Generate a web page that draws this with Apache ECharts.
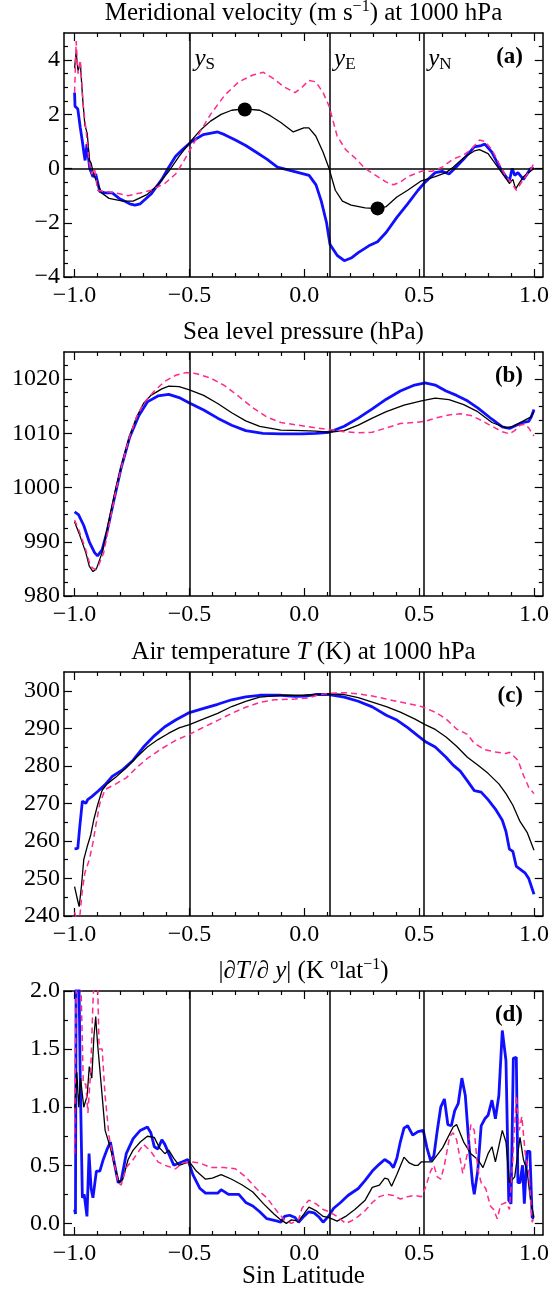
<!DOCTYPE html>
<html><head><meta charset="utf-8">
<script src="https://cdn.jsdelivr.net/npm/echarts@6/dist/echarts.min.js"></script>
<style>html,body{margin:0;padding:0;background:#fff}#c{width:552px;height:1293px}</style>
</head><body><div id="c"></div>
<script>
// ---------------- data ----------------
const X_MIN = -1.046, X_MAX = 1.038;
const xMajor = [-1, -0.5, 0, 0.5, 1];
const xMinor = [-0.9,-0.8,-0.7,-0.6,-0.4,-0.3,-0.2,-0.1,0.1,0.2,0.3,0.4,0.6,0.7,0.8,0.9];
const boundaries = [-0.5, 0.108, 0.518];           // y_S, y_E, y_N
const boundaryNames = ['S', 'E', 'N'];

const yRangeA = [-4, 5], yMajorA = [-4,-2,0,2,4], yMinorA = [-3.5,-3,-2.5,-1.5,-1,-0.5,0.5,1,1.5,2.5,3,3.5,4.5];
const yRangeB = [980, 1025], yMajorB = [980,990,1000,1010,1020], yMinorB = [982.5,985,987.5,992.5,995,997.5,1002.5,1005,1007.5,1012.5,1015,1017.5,1022.5];
const yRangeC = [240, 305], yMajorC = [240,250,260,270,280,290,300], yMinorC = [245,255,265,275,285,295];
const yRangeD = [-0.1, 2.0], yMajorD = [0,0.5,1,1.5,2], yMinorD = [0.25,0.75,1.25,1.75];

// (a) meridional velocity
const vBlack = [[-1.0,3.7],[-0.993,4.3],[-0.985,3.6],[-0.975,3.9],[-0.965,2.6],[-0.955,1.6],[-0.945,1.3],[-0.935,0.3],[-0.928,0.2],[-0.92,-0.1],[-0.913,-0.3],[-0.882,-0.9],[-0.85,-1.1],[-0.79,-1.2],[-0.745,-1.2],[-0.683,-0.95],[-0.637,-0.6],[-0.59,-0.1],[-0.545,0.45],[-0.5,0.95],[-0.454,1.4],[-0.408,1.75],[-0.362,2.0],[-0.316,2.15],[-0.26,2.2],[-0.194,2.15],[-0.148,1.95],[-0.102,1.7],[-0.048,1.35],[-0.002,1.5],[0.02,1.5],[0.05,1.2],[0.082,0.6],[0.108,0.0],[0.135,-0.8],[0.166,-1.2],[0.204,-1.35],[0.265,-1.45],[0.319,-1.48],[0.357,-1.4],[0.403,-1.05],[0.45,-0.8],[0.51,-0.45],[0.57,-0.3],[0.617,-0.15],[0.648,0.05],[0.694,0.4],[0.74,0.65],[0.763,0.7],[0.8,0.55],[0.847,0.0],[0.893,-0.55],[0.908,-0.4],[0.92,-0.75],[0.954,-0.3],[1.0,0.0]];
const vBlue = [[-1.0,2.8],[-0.998,2.3],[-0.986,2.2],[-0.975,1.5],[-0.966,1.0],[-0.958,0.5],[-0.954,0.3],[-0.946,0.9],[-0.934,0.0],[-0.92,-0.3],[-0.908,-0.2],[-0.89,-0.85],[-0.867,-0.9],[-0.836,-0.9],[-0.806,-1.1],[-0.76,-1.3],[-0.737,-1.35],[-0.714,-1.3],[-0.668,-0.95],[-0.62,-0.4],[-0.59,0.05],[-0.56,0.45],[-0.53,0.7],[-0.49,1.0],[-0.47,1.1],[-0.44,1.25],[-0.377,1.35],[-0.347,1.25],[-0.3,1.05],[-0.255,0.85],[-0.209,0.6],[-0.163,0.35],[-0.117,0.05],[-0.071,-0.05],[-0.025,-0.15],[0.021,-0.25],[0.051,-0.6],[0.074,-1.2],[0.097,-2.0],[0.112,-2.8],[0.143,-3.2],[0.174,-3.4],[0.204,-3.3],[0.235,-3.1],[0.281,-2.85],[0.319,-2.7],[0.357,-2.35],[0.403,-1.8],[0.45,-1.3],[0.495,-0.8],[0.526,-0.5],[0.57,-0.15],[0.6,-0.1],[0.63,-0.2],[0.66,0.05],[0.694,0.35],[0.74,0.8],[0.77,0.85],[0.786,0.9],[0.817,0.6],[0.847,0.1],[0.878,-0.3],[0.893,-0.45],[0.905,0.0],[0.916,-0.25],[0.93,-0.15],[0.954,-0.4],[0.97,-0.2],[0.985,0.0],[1.0,0.0]];
const vPink = [[-1.0,2.8],[-0.993,4.7],[-0.985,3.5],[-0.975,4.0],[-0.962,2.3],[-0.951,1.5],[-0.936,0.2],[-0.925,-0.2],[-0.913,0.0],[-0.9,-0.8],[-0.867,-0.85],[-0.82,-0.9],[-0.767,-1.0],[-0.714,-0.9],[-0.668,-0.8],[-0.607,-0.55],[-0.56,-0.2],[-0.53,0.2],[-0.49,0.8],[-0.454,1.35],[-0.408,2.0],[-0.347,2.7],[-0.285,3.2],[-0.224,3.45],[-0.178,3.55],[-0.132,3.3],[-0.086,3.0],[-0.04,2.8],[-0.01,3.0],[0.02,3.25],[0.05,3.2],[0.082,2.8],[0.108,2.3],[0.143,1.2],[0.18,0.7],[0.22,0.4],[0.265,0.0],[0.311,-0.25],[0.357,-0.5],[0.388,-0.6],[0.418,-0.5],[0.45,-0.3],[0.48,-0.2],[0.51,-0.1],[0.556,-0.1],[0.6,0.05],[0.648,0.35],[0.694,0.5],[0.725,0.7],[0.763,1.05],[0.786,1.0],[0.817,0.7],[0.847,0.2],[0.878,-0.3],[0.9,-0.5],[0.923,-0.8],[0.954,-0.4],[0.985,-0.05],[1.0,0.2]];
const vDots = [[-0.259,2.18],[0.319,-1.47]];

// (b) sea level pressure
const pBlack = [[-1.0,993.7],[-0.98,991.5],[-0.951,988],[-0.936,985.5],[-0.92,984.5],[-0.905,985.0],[-0.88,988],[-0.85,994],[-0.82,1000],[-0.79,1005],[-0.76,1009.5],[-0.73,1013],[-0.7,1015.5],[-0.668,1017],[-0.62,1018.2],[-0.59,1018.7],[-0.545,1018.6],[-0.5,1018.0],[-0.438,1017],[-0.377,1015.5],[-0.316,1013.8],[-0.255,1012.3],[-0.194,1011.3],[-0.102,1010.6],[-0.01,1010.5],[0.05,1010.4],[0.108,1010.2],[0.174,1010.5],[0.235,1011.5],[0.296,1012.8],[0.357,1014],[0.434,1015.2],[0.51,1016],[0.57,1016.5],[0.63,1016.2],[0.694,1015.3],[0.755,1014],[0.817,1012],[0.878,1011],[0.908,1011.3],[0.954,1012.3],[0.985,1013],[1.0,1014]];
const pBlue = [[-1.0,995.5],[-0.983,995],[-0.96,993],[-0.936,990],[-0.913,988],[-0.9,987.4],[-0.88,988.5],[-0.858,992],[-0.827,998],[-0.798,1003.5],[-0.76,1009.3],[-0.72,1013.3],[-0.683,1015.8],[-0.637,1016.9],[-0.59,1017.2],[-0.545,1016.6],[-0.5,1015.6],[-0.438,1014.3],[-0.377,1012.8],[-0.316,1011.5],[-0.255,1010.5],[-0.18,1010.0],[-0.102,1009.9],[-0.01,1009.9],[0.05,1010.0],[0.108,1010.2],[0.174,1011.3],[0.235,1012.8],[0.296,1014.5],[0.357,1016.3],[0.418,1017.8],[0.48,1018.9],[0.526,1019.3],[0.57,1018.9],[0.617,1017.8],[0.663,1017.0],[0.71,1016.0],[0.755,1014.7],[0.817,1012.6],[0.862,1011.2],[0.893,1010.9],[0.923,1011.5],[0.954,1012.0],[0.977,1012.2],[0.988,1013.0],[1.0,1014.4]];
const pPink = [[-1.0,994],[-0.98,992],[-0.951,988.5],[-0.931,985.5],[-0.913,984.9],[-0.9,985.2],[-0.873,988],[-0.85,993],[-0.82,999.5],[-0.79,1004.8],[-0.76,1009.5],[-0.73,1013],[-0.7,1015.5],[-0.653,1017.8],[-0.607,1019.6],[-0.56,1020.7],[-0.515,1021.2],[-0.469,1021.0],[-0.408,1020.2],[-0.347,1018.8],[-0.285,1016.8],[-0.224,1014.7],[-0.163,1013.0],[-0.102,1012.0],[-0.025,1011.5],[0.05,1011.0],[0.108,1010.7],[0.174,1010.3],[0.235,1010.1],[0.296,1010.2],[0.357,1011],[0.418,1011.8],[0.48,1012.0],[0.526,1012.2],[0.57,1012.8],[0.63,1013.4],[0.679,1013.6],[0.725,1013.3],[0.77,1012.4],[0.817,1011.3],[0.862,1010.3],[0.893,1009.9],[0.916,1010.5],[0.939,1011.5],[0.962,1011.7],[0.977,1011.0],[0.992,1010.0],[1.0,1009.5]];

// (c) air temperature
const tBlack = [[-1.0,247.8],[-0.986,244],[-0.98,242.5],[-0.97,248],[-0.96,255],[-0.945,258.5],[-0.93,261.5],[-0.917,265.5],[-0.9,269.5],[-0.88,273.5],[-0.858,275.2],[-0.82,277],[-0.775,279.5],[-0.73,282.3],[-0.683,285],[-0.637,287],[-0.59,288.7],[-0.545,290.1],[-0.5,291],[-0.438,292.5],[-0.377,294],[-0.316,295.8],[-0.255,297.2],[-0.194,298.3],[-0.102,298.8],[-0.01,298.8],[0.05,299.0],[0.108,299.2],[0.174,299.0],[0.235,298.2],[0.296,297.0],[0.357,295.8],[0.418,294.3],[0.48,292.5],[0.526,291.0],[0.57,289.7],[0.617,287.7],[0.663,285.2],[0.71,282.3],[0.755,280.2],[0.8,278],[0.847,275.2],[0.878,272.6],[0.908,269.5],[0.939,265.2],[0.97,262.3],[1.0,257.5]];
const tBlue = [[-1.0,257.9],[-0.986,258],[-0.977,264],[-0.966,270.6],[-0.96,271],[-0.951,270],[-0.943,271],[-0.925,271.8],[-0.897,273.3],[-0.867,275.0],[-0.836,277.2],[-0.79,279.0],[-0.745,281.5],[-0.7,285],[-0.653,288],[-0.607,290.4],[-0.56,292.2],[-0.5,294.2],[-0.438,295.3],[-0.377,296.4],[-0.316,297.6],[-0.255,298.4],[-0.194,298.8],[-0.102,298.8],[-0.04,298.5],[0.005,298.6],[0.05,299.0],[0.108,299.0],[0.174,298.3],[0.235,297.2],[0.296,295.7],[0.357,293.5],[0.403,292.2],[0.45,290.2],[0.495,288],[0.526,286.5],[0.57,285],[0.617,282.3],[0.648,280.2],[0.679,278.6],[0.71,276],[0.74,273.4],[0.77,273],[0.8,271],[0.832,268.5],[0.862,265.5],[0.878,262.5],[0.893,257.8],[0.908,257.2],[0.923,253.2],[0.939,252.5],[0.962,251.4],[0.977,250.0],[1.0,245.8]];
const tPink = [[-1.0,241],[-0.986,238],[-0.977,240],[-0.966,247],[-0.955,251.5],[-0.936,255],[-0.92,259.5],[-0.905,265],[-0.89,270],[-0.867,273.7],[-0.82,275.2],[-0.775,276.8],[-0.73,279.5],[-0.683,282.0],[-0.62,284.6],[-0.56,286.8],[-0.5,288.4],[-0.438,290.3],[-0.377,292.1],[-0.316,294.0],[-0.255,295.6],[-0.194,296.9],[-0.132,297.6],[-0.04,297.8],[0.02,298.1],[0.066,299.0],[0.108,299.3],[0.174,299.5],[0.235,299.2],[0.296,298.6],[0.357,297.8],[0.434,296.8],[0.51,295.8],[0.57,294.3],[0.617,292.5],[0.663,289.8],[0.71,288.4],[0.74,286],[0.786,284.3],[0.832,283.7],[0.878,283.3],[0.893,283.6],[0.908,282.8],[0.93,281.5],[0.954,277.5],[0.977,274.3],[1.0,272.6]];

// (d) |dT/dy|
const gBlack = [[-1.0,0.95],[-0.99,1.3],[-0.982,1.0],[-0.974,1.25],[-0.96,1.0],[-0.945,1.1],[-0.936,1.35],[-0.925,1.25],[-0.916,1.6],[-0.908,1.78],[-0.9,1.55],[-0.88,1.1],[-0.867,0.8],[-0.844,0.65],[-0.82,0.45],[-0.806,0.35],[-0.79,0.38],[-0.767,0.55],[-0.745,0.63],[-0.714,0.7],[-0.683,0.75],[-0.653,0.74],[-0.63,0.65],[-0.607,0.6],[-0.59,0.63],[-0.568,0.56],[-0.545,0.5],[-0.515,0.52],[-0.5,0.53],[-0.47,0.45],[-0.43,0.38],[-0.4,0.39],[-0.362,0.42],[-0.316,0.38],[-0.27,0.33],[-0.224,0.27],[-0.178,0.17],[-0.132,0.08],[-0.102,0.03],[-0.078,0.0],[-0.056,0.03],[-0.025,0.02],[-0.002,0.08],[0.02,0.14],[0.05,0.11],[0.082,0.06],[0.108,0.05],[0.143,0.02],[0.18,0.06],[0.22,0.12],[0.265,0.2],[0.296,0.31],[0.327,0.33],[0.35,0.39],[0.365,0.38],[0.38,0.32],[0.403,0.42],[0.434,0.57],[0.457,0.52],[0.48,0.5],[0.495,0.5],[0.51,0.53],[0.556,0.53],[0.602,0.65],[0.648,0.83],[0.663,0.85],[0.694,0.7],[0.725,0.6],[0.755,0.55],[0.778,0.48],[0.8,0.6],[0.817,0.66],[0.832,0.53],[0.862,0.8],[0.878,0.7],[0.893,0.35],[0.916,0.4],[0.939,0.74],[0.954,0.55],[0.97,0.45],[0.985,0.2],[1.0,0.05]];
const gBlue = [[-1.0,0.12],[-0.996,0.08],[-0.993,2.3],[-0.982,2.3],[-0.975,1.2],[-0.966,0.22],[-0.958,0.25],[-0.946,0.06],[-0.937,0.6],[-0.928,0.3],[-0.92,0.22],[-0.905,0.45],[-0.89,0.45],[-0.875,0.55],[-0.86,0.63],[-0.844,0.7],[-0.83,0.55],[-0.81,0.35],[-0.797,0.37],[-0.775,0.6],[-0.745,0.73],[-0.714,0.8],[-0.683,0.83],[-0.668,0.78],[-0.653,0.66],[-0.637,0.64],[-0.62,0.72],[-0.607,0.68],[-0.59,0.6],[-0.568,0.5],[-0.53,0.53],[-0.507,0.55],[-0.485,0.42],[-0.454,0.3],[-0.43,0.26],[-0.377,0.26],[-0.362,0.29],[-0.33,0.25],[-0.285,0.25],[-0.255,0.18],[-0.224,0.15],[-0.194,0.1],[-0.163,0.04],[-0.117,0.02],[-0.102,0.01],[-0.086,0.06],[-0.064,0.07],[-0.04,0.05],[-0.025,0.01],[-0.002,0.06],[0.02,0.1],[0.043,0.09],[0.066,0.05],[0.082,0.01],[0.105,0.06],[0.128,0.13],[0.158,0.18],[0.19,0.24],[0.235,0.3],[0.265,0.37],[0.296,0.45],[0.327,0.51],[0.35,0.55],[0.373,0.52],[0.388,0.48],[0.403,0.56],[0.418,0.7],[0.434,0.82],[0.45,0.84],[0.472,0.76],[0.495,0.79],[0.518,0.8],[0.534,0.65],[0.55,0.54],[0.564,0.58],[0.579,0.8],[0.594,1.0],[0.61,1.07],[0.625,0.85],[0.64,0.84],[0.655,0.97],[0.67,1.03],[0.686,1.25],[0.701,1.1],[0.716,0.7],[0.732,0.35],[0.74,0.25],[0.755,0.45],[0.77,0.84],[0.786,0.9],[0.8,0.93],[0.817,1.06],[0.832,0.9],[0.847,1.1],[0.862,1.66],[0.878,1.4],[0.89,0.2],[0.9,0.17],[0.91,1.42],[0.923,1.43],[0.93,0.35],[0.939,0.35],[0.95,0.5],[0.958,0.17],[0.97,0.62],[0.982,0.62],[0.992,0.05],[1.0,0.05]];
const gPink = [[-1.0,0.6],[-0.996,1.5],[-0.99,2.3],[-0.975,2.3],[-0.962,1.2],[-0.951,1.2],[-0.942,0.95],[-0.93,1.3],[-0.92,1.9],[-0.91,2.3],[-0.9,2.1],[-0.893,1.5],[-0.88,1.5],[-0.867,1.1],[-0.85,0.75],[-0.836,0.6],[-0.81,0.35],[-0.797,0.33],[-0.775,0.48],[-0.745,0.55],[-0.7,0.68],[-0.668,0.62],[-0.637,0.53],[-0.607,0.5],[-0.56,0.47],[-0.53,0.52],[-0.5,0.53],[-0.454,0.52],[-0.408,0.48],[-0.347,0.48],[-0.3,0.47],[-0.255,0.4],[-0.209,0.3],[-0.163,0.22],[-0.117,0.1],[-0.086,0.03],[-0.056,0.0],[-0.025,0.03],[-0.01,0.13],[0.02,0.2],[0.05,0.17],[0.082,0.12],[0.108,0.1],[0.143,0.06],[0.18,0.0],[0.204,0.02],[0.235,0.06],[0.265,0.11],[0.296,0.18],[0.327,0.23],[0.357,0.25],[0.388,0.24],[0.418,0.21],[0.45,0.23],[0.48,0.24],[0.51,0.23],[0.526,0.3],[0.55,0.45],[0.564,0.5],[0.579,0.4],[0.594,0.38],[0.61,0.5],[0.633,0.75],[0.648,0.78],[0.663,0.72],[0.679,0.55],[0.69,0.43],[0.71,0.6],[0.725,0.85],[0.74,0.8],[0.755,0.47],[0.77,0.35],[0.79,0.3],[0.81,0.15],[0.824,0.12],[0.84,0.04],[0.855,0.16],[0.878,0.18],[0.893,0.12],[0.908,0.55],[0.923,1.1],[0.936,0.8],[0.947,0.92],[0.962,0.6],[0.977,0.45],[0.992,0.01],[1.0,0.05]];

// ---------------- layout / style ----------------
const FONT = '"Liberation Serif", "Times New Roman", serif';
const GL = 64, GW = 479, GH = 244;
const tops = [33, 352, 672, 991];
const C_BLACK = '#000000', C_BLUE = '#1010ff', C_PINK = '#ff2a8c';
const minus = s => String(s).replace('-', '\u2212');
const fmt0 = v => minus(Math.round(v));
const fmt1 = v => minus((Math.round(v * 10) / 10).toFixed(1));

const panels = [
  {range: yRangeA, major: yMajorA, minor: yMinorA, fmt: fmt0, black: vBlack, blue: vBlue, pink: vPink},
  {range: yRangeB, major: yMajorB, minor: yMinorB, fmt: fmt0, black: pBlack, blue: pBlue, pink: pPink},
  {range: yRangeC, major: yMajorC, minor: yMinorC, fmt: fmt0, black: tBlack, blue: tBlue, pink: tPink},
  {range: yRangeD, major: yMajorD, minor: yMinorD, fmt: fmt1, black: gBlack, blue: gBlue, pink: gPink}
];

const lineS = {color: '#000', width: 1.5};
const tickS = {color: '#000', width: 1.2};
const labelS = {fontFamily: FONT, fontSize: 24, color: '#000'};

const grids = [], xAxes = [], yAxes = [], series = [];
panels.forEach((p, g) => {
  grids.push({left: GL, width: GW, top: tops[g], height: GH, containLabel: false});
  const xb = {type: 'value', gridIndex: g, min: X_MIN, max: X_MAX, splitLine: {show: false}};
  xAxes.push(
    {...xb, position: 'bottom', axisLine: {show: true, onZero: false, lineStyle: lineS},
      axisTick: {show: true, inside: true, length: 8, customValues: xMajor, lineStyle: tickS},
      axisLabel: {show: true, customValues: xMajor, formatter: fmt1, margin: 7, ...labelS}},
    {...xb, position: 'bottom', axisLine: {show: false, onZero: false},
      axisTick: {show: true, inside: true, length: 4, customValues: xMinor, lineStyle: tickS}, axisLabel: {show: false}},
    {...xb, position: 'top', axisLine: {show: true, onZero: false, lineStyle: lineS},
      axisTick: {show: true, inside: true, length: 8, customValues: xMajor, lineStyle: tickS}, axisLabel: {show: false}},
    {...xb, position: 'top', axisLine: {show: false, onZero: false},
      axisTick: {show: true, inside: true, length: 4, customValues: xMinor, lineStyle: tickS}, axisLabel: {show: false}}
  );
  const yb = {type: 'value', gridIndex: g, min: p.range[0], max: p.range[1], splitLine: {show: false}};
  yAxes.push(
    {...yb, position: 'left', axisLine: {show: true, onZero: false, lineStyle: lineS},
      axisTick: {show: true, inside: true, length: 8, customValues: p.major, lineStyle: tickS},
      axisLabel: {show: true, customValues: p.major, formatter: p.fmt, margin: 4, ...labelS}},
    {...yb, position: 'left', axisLine: {show: false, onZero: false},
      axisTick: {show: true, inside: true, length: 4, customValues: p.minor, lineStyle: tickS}, axisLabel: {show: false}},
    {...yb, position: 'right', axisLine: {show: true, onZero: false, lineStyle: lineS},
      axisTick: {show: true, inside: true, length: 8, customValues: p.major, lineStyle: tickS}, axisLabel: {show: false}},
    {...yb, position: 'right', axisLine: {show: false, onZero: false},
      axisTick: {show: true, inside: true, length: 4, customValues: p.minor, lineStyle: tickS}, axisLabel: {show: false}}
  );
  const ax = {xAxisIndex: 4 * g, yAxisIndex: 4 * g};
  const mlData = boundaries.map(b => ({xAxis: b}));
  if (g === 0) mlData.push({yAxis: 0});
  series.push(
    {type: 'line', ...ax, data: p.blue, showSymbol: false, clip: true, z: 3,
      lineStyle: {color: C_BLUE, width: 2.8}, itemStyle: {color: C_BLUE}},
    {type: 'line', ...ax, data: p.black, showSymbol: false, clip: true, z: 4,
      lineStyle: {color: C_BLACK, width: 1.3}, itemStyle: {color: C_BLACK},
      markLine: {silent: true, symbol: ['none', 'none'], label: {show: false},
        lineStyle: {color: '#000', width: 1.5, type: 'solid'}, data: mlData}},
    {type: 'line', ...ax, data: p.pink, showSymbol: false, clip: true, z: 5,
      lineStyle: {color: C_PINK, width: 1.5, type: [6, 4]}, itemStyle: {color: C_PINK}}
  );
});
series.push({type: 'scatter', xAxisIndex: 0, yAxisIndex: 0, data: vDots, symbolSize: 14, z: 6,
  itemStyle: {color: '#000', opacity: 1}});

const chart = echarts.init(document.getElementById('c'), null, {renderer: 'canvas'});
chart.setOption({animation: false, backgroundColor: '#fff', grid: grids, xAxis: xAxes, yAxis: yAxes, series});

// ---------------- texts ----------------
const TF = 25;
const rich = {
  sup: {fontFamily: FONT, fontSize: 16, lineHeight: 16, verticalAlign: 'top', fill: '#000'},
  sub: {fontFamily: FONT, fontSize: 17, lineHeight: 17, verticalAlign: 'bottom', fill: '#000'},
  i: {fontFamily: FONT, fontSize: TF, fontStyle: 'italic', lineHeight: 29, fill: '#000'}
};
const titles = [
  'Meridional velocity (m s{sup|\u22121}) at 1000 hPa',
  'Sea level pressure (hPa)',
  'Air temperature {i|T} (K) at 1000 hPa',
  '|\u2202{i|T}/\u2202 {i|y}| (K {sup|o}lat{sup|\u22121})'
];
const letters = ['(a)', '(b)', '(c)', '(d)'];
const cx = GL + GW / 2;
const graphics = [];
titles.forEach((t, g) => {
  graphics.push({type: 'text', x: cx, y: tops[g] - 20, z: 100,
    style: {text: t, fontFamily: FONT, fontSize: TF, lineHeight: 29, fill: '#000', align: 'center', verticalAlign: 'middle', rich}});
  graphics.push({type: 'text', x: GL + GW - 20, y: tops[g] + 24, z: 100,
    style: {text: letters[g], fontFamily: FONT, fontSize: 23, fontWeight: 'bold', fill: '#000', align: 'right', verticalAlign: 'middle'}});
});
boundaries.forEach((b, k) => {
  const px = chart.convertToPixel({xAxisIndex: 0}, b);
  graphics.push({type: 'text', x: px + 5, y: tops[0] + 26, z: 100,
    style: {text: '{i|y}{sub|' + boundaryNames[k] + '}', fontFamily: FONT, fontSize: TF, lineHeight: 29, fill: '#000', align: 'left', verticalAlign: 'middle', rich}});
});
graphics.push({type: 'text', x: cx, y: 1276, z: 100,
  style: {text: 'Sin Latitude', fontFamily: FONT, fontSize: TF, fill: '#000', align: 'center', verticalAlign: 'middle'}});
chart.setOption({graphic: graphics});
</script>
</body></html>
